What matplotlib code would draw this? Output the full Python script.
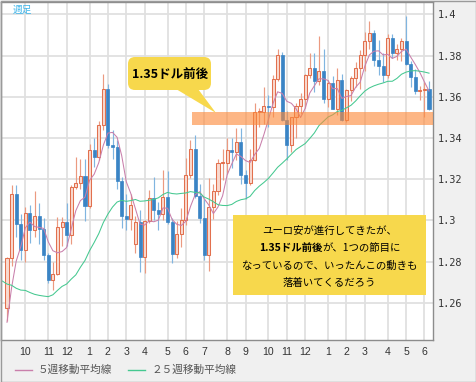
import numpy as np
import pandas as pd
import matplotlib
matplotlib.use('Agg')
import matplotlib.pyplot as plt
from matplotlib.patches import Rectangle, FancyBboxPatch, Polygon
from matplotlib.lines import Line2D
from matplotlib.transforms import Affine2D

plt.rcParams['font.family'] = ['Noto Sans CJK JP', 'DejaVu Sans']

# ---------------- data (weekly EUR/USD) ----------------
start_week = '2012-09-03'
opens = [1.2575, 1.2815, 1.3130, 1.2980, 1.2858, 1.3036, 1.2955, 1.3020, 1.2960, 1.2832,
         1.2710, 1.2740, 1.2970, 1.2990, 1.2929, 1.3163, 1.3183, 1.3215, 1.3071, 1.3341,
         1.3309, 1.3463, 1.3640, 1.3365, 1.3358, 1.3190, 1.3020, 1.3005, 1.2885, 1.2990,
         1.2820, 1.2995, 1.3110, 1.3050, 1.3030, 1.3115, 1.2990, 1.2835, 1.2935, 1.3000,
         1.3220, 1.3345, 1.3120, 1.3010, 1.2830, 1.3065, 1.3140, 1.3280, 1.3280, 1.3340,
         1.3330, 1.3380, 1.3220, 1.3180, 1.3295, 1.3525, 1.3525, 1.3555, 1.3550, 1.3685,
         1.3805, 1.3485, 1.3365, 1.3500, 1.3555, 1.3590, 1.3705, 1.3740, 1.3675, 1.3725,
         1.3590, 1.3665, 1.3540, 1.3680, 1.3485, 1.3635, 1.3690, 1.3740, 1.3805, 1.3870,
         1.3910, 1.3780, 1.3750, 1.3705, 1.3885, 1.3810, 1.3830, 1.3870, 1.3760, 1.3695,
         1.3630, 1.3635, 1.3640]
highs = [1.2820, 1.3170, 1.3170, 1.3030, 1.3065, 1.3075, 1.3140, 1.3085, 1.3010, 1.2840,
         1.2800, 1.3015, 1.3015, 1.3085, 1.3170, 1.3309, 1.3300, 1.3300, 1.3370, 1.3400,
         1.3480, 1.3711, 1.3660, 1.3440, 1.3390, 1.3210, 1.3130, 1.3130, 1.3020, 1.3050,
         1.3000, 1.3145, 1.3210, 1.3090, 1.3245, 1.3240, 1.3010, 1.2995, 1.3060, 1.3305,
         1.3390, 1.3415, 1.3175, 1.3105, 1.3205, 1.3175, 1.3300, 1.3345, 1.3400, 1.3400,
         1.3450, 1.3450, 1.3245, 1.3345, 1.3570, 1.3545, 1.3645, 1.3610, 1.3705, 1.3832,
         1.3815, 1.3530, 1.3500, 1.3570, 1.3620, 1.3710, 1.3810, 1.3810, 1.3893, 1.3830,
         1.3680, 1.3700, 1.3740, 1.3710, 1.3640, 1.3700, 1.3770, 1.3825, 1.3915, 1.3967,
         1.3925, 1.3875, 1.3810, 1.3905, 1.3905, 1.3855, 1.3885, 1.3993, 1.3775, 1.3735,
         1.3650, 1.3670, 1.3675]
lows = [1.2510, 1.2780, 1.2920, 1.2805, 1.2800, 1.2890, 1.2920, 1.2885, 1.2805, 1.2695,
        1.2661, 1.2735, 1.2877, 1.2877, 1.2885, 1.3150, 1.3150, 1.2995, 1.3058, 1.3260,
        1.3293, 1.3440, 1.3350, 1.3300, 1.3150, 1.2965, 1.2955, 1.2955, 1.2840, 1.2750,
        1.2745, 1.2985, 1.3000, 1.2955, 1.3000, 1.2980, 1.2795, 1.2815, 1.2870, 1.2975,
        1.3205, 1.3110, 1.2985, 1.2805, 1.2755, 1.3005, 1.3125, 1.3195, 1.3225, 1.3255,
        1.3295, 1.3175, 1.3105, 1.3170, 1.3290, 1.3455, 1.3470, 1.3455, 1.3500, 1.3675,
        1.3480, 1.3295, 1.3330, 1.3400, 1.3515, 1.3545, 1.3690, 1.3625, 1.3655, 1.3570,
        1.3550, 1.3540, 1.3510, 1.3480, 1.3475, 1.3580, 1.3645, 1.3640, 1.3725, 1.3830,
        1.3750, 1.3705, 1.3670, 1.3690, 1.3790, 1.3780, 1.3775, 1.3755, 1.3645, 1.3615,
        1.3585, 1.3503, 1.3535]
closes = [1.2815, 1.3130, 1.2980, 1.2858, 1.3036, 1.2955, 1.3020, 1.2960, 1.2832, 1.2710,
          1.2740, 1.2970, 1.2990, 1.2929, 1.3163, 1.3183, 1.3215, 1.3071, 1.3341, 1.3309,
          1.3463, 1.3640, 1.3365, 1.3358, 1.3190, 1.3020, 1.3005, 1.3075, 1.2990, 1.2820,
          1.2995, 1.3110, 1.3050, 1.3030, 1.3115, 1.2990, 1.2835, 1.2935, 1.3000, 1.3220,
          1.3345, 1.3120, 1.3010, 1.2830, 1.3065, 1.3140, 1.3280, 1.3280, 1.3340, 1.3330,
          1.3380, 1.3220, 1.3180, 1.3295, 1.3525, 1.3525, 1.3555, 1.3550, 1.3685, 1.3805,
          1.3485, 1.3365, 1.3500, 1.3555, 1.3590, 1.3705, 1.3740, 1.3675, 1.3725, 1.3590,
          1.3665, 1.3540, 1.3680, 1.3485, 1.3635, 1.3690, 1.3740, 1.3805, 1.3870, 1.3910,
          1.3780, 1.3750, 1.3705, 1.3885, 1.3810, 1.3830, 1.3870, 1.3760, 1.3695, 1.3630,
          1.3635, 1.3640, 1.3540]
# closes of the weeks before the first drawn candle (feed the moving averages)
prior_closes = [1.3175, 1.3275, 1.3345, 1.3080, 1.3075, 1.3210, 1.3240, 1.3085, 1.2920,
                1.2780, 1.2515, 1.2435, 1.2505, 1.2640, 1.2570, 1.2665, 1.2290, 1.2245,
                1.2155, 1.2320, 1.2390, 1.2290, 1.2335, 1.2510, 1.2575]
y_ticks = [1.26, 1.28, 1.30, 1.32, 1.34, 1.36, 1.38, 1.40]
support_low, support_high = 1.3463, 1.3526
ma_short_label = '５週移動平均線'
ma_long_label = '２５週移動平均線'
callout_title = '1.35ドル前後'
note_lines = ['ユーロ安が進行してきたが、', None, 'なっているので、いったんこの動きも', '落着いてくるだろう']
note_bold = '1.35ドル前後'
note_rest = 'が、1つの節目に'

# ---------------- figure ----------------
W, H = 476, 382
fig = plt.figure(figsize=(W / 100, H / 100), dpi=100, facecolor='#f0f0f0')
PX = Affine2D().scale(1 / W, -1 / H).translate(0, 1) + fig.transFigure

ax = fig.add_axes([1 / W, 1 - 340 / H, 432 / W, 338 / H])
ax.set_facecolor('white')
n = len(closes)
idx = np.arange(n)
o, h, l, c = map(np.array, (opens, highs, lows, closes))
up = c >= o

UP_EDGE, UP_FILL, UP_WICK = '#e2704e', '#f9dacf', '#eb9a80'
DN_FILL, DN_WICK = '#3a84c5', '#80b5e0'

ax.vlines(idx[up], l[up], h[up], color=UP_WICK, lw=0.85, zorder=2)
ax.vlines(idx[~up], l[~up], h[~up], color=DN_WICK, lw=0.85, zorder=2)
lo = np.minimum(o, c)
bh = np.maximum(np.abs(c - o), 0.0004)
ax.bar(idx[up], bh[up], bottom=lo[up], width=0.66, color=UP_FILL,
       edgecolor=UP_EDGE, lw=0.75, zorder=2.5)
ax.bar(idx[~up], bh[~up], bottom=lo[~up], width=0.66, color=DN_FILL,
       edgecolor=DN_FILL, lw=0.5, zorder=2.5)

allc = pd.Series(prior_closes + closes)
k = len(prior_closes)
ma5 = allc.rolling(5).mean().values
ma25 = allc.rolling(25).mean().values
xs_all = np.arange(-k, n)
PINK, GREEN = '#c97fab', '#45c890'
m5 = xs_all >= 0
ax.plot(xs_all[m5], ma5[m5], color=PINK, lw=0.75, zorder=3)
m25 = xs_all >= -1
ax.plot(xs_all[m25], ma25[m25], color=GREEN, lw=0.75, zorder=3)

ax.add_patch(Rectangle((40.3, support_low), 60, support_high - support_low,
                       facecolor='#fd8a3a', alpha=0.62, edgecolor='none', zorder=4))

ax.set_xlim(-1.31, 92.87)
ax.set_ylim(1.2419, 1.4060)

weeks = pd.date_range(start_week, periods=n, freq='7D')
tick_pos, tick_lab = [], []
for i in range(1, n):
    if weeks[i].month != weeks[i - 1].month:
        tick_pos.append(i)
        tick_lab.append(str(weeks[i].month))
ax.set_xticks(tick_pos)
ax.set_xticklabels(tick_lab)
ax.set_yticks(y_ticks)
ax.set_yticklabels([f'{v:.2f}'.rstrip('0') for v in y_ticks])
ax.yaxis.tick_right()
ax.tick_params(axis='y', length=0, pad=3.5, labelsize=7.4, labelcolor='#333333',
               labelfontfamily='DejaVu Sans Mono')
ax.tick_params(axis='x', length=0, pad=5, labelsize=7.6, labelcolor='#333333',
               labelfontfamily='Liberation Sans')
ax.grid(True, color='#e0e0e0', lw=1.3, zorder=0)
ax.set_axisbelow(True)
for s in ax.spines.values():
    s.set_color('#8c8c8c')
    s.set_linewidth(1)

# ---------------- annotations ----------------
YEL = '#f7d84c'
fig.add_artist(FancyBboxPatch((128, 57), 83, 33, boxstyle='round,pad=0,rounding_size=7',
                              transform=PX, fc=YEL, ec='none', zorder=10))
fig.add_artist(Polygon([(176, 89), (198, 89), (216, 113)], closed=True,
                       transform=PX, fc=YEL, ec='none', zorder=10))
fig.text(170, 74, callout_title, transform=PX, ha='center', va='center',
         fontsize=9, weight='bold', color='black', zorder=11)

fig.add_artist(Rectangle((233, 215), 193, 80, transform=PX, fc=YEL, ec='none', zorder=10))
line_y = [230.5, 248, 265.5, 283]
cx = 329.5
for t, yy in zip(note_lines, line_y):
    if t is not None:
        fig.text(cx, yy, t, transform=PX, ha='center', va='center', fontsize=7.5,
                 color='black', zorder=11)
t1 = fig.text(0, line_y[1], note_bold, transform=PX, ha='left', va='center',
              fontsize=7.5, weight='bold', color='black', zorder=11)
t2 = fig.text(0, line_y[1], note_rest, transform=PX, ha='left', va='center',
              fontsize=7.5, color='black', zorder=11)
r = fig.canvas.get_renderer()
w1 = t1.get_window_extent(r).width
w2 = t2.get_window_extent(r).width
x0 = cx - (w1 + w2) / 2
t1.set_x(x0)
t2.set_x(x0 + w1)

fig.text(13, 10, '週足', transform=PX, ha='left', va='center', fontsize=7,
         color='#3db5ea', zorder=11)

# legend
fig.add_artist(Line2D([15, 32], [370, 370], transform=PX, color=PINK, lw=1))
fig.text(38, 370, ma_short_label, transform=PX, ha='left', va='center',
         fontsize=7.7, color='#555555')
fig.add_artist(Line2D([128, 145], [370, 370], transform=PX, color=GREEN, lw=1))
fig.text(151, 370, ma_long_label, transform=PX, ha='left', va='center',
         fontsize=7.7, color='#555555')

fig.add_artist(Rectangle((0.5, 0.5), 475, 381, transform=PX, fill=False,
                         ec='#9a9a9a', lw=1, zorder=20))

fig.savefig('out.png', dpi=100, facecolor=fig.get_facecolor())
